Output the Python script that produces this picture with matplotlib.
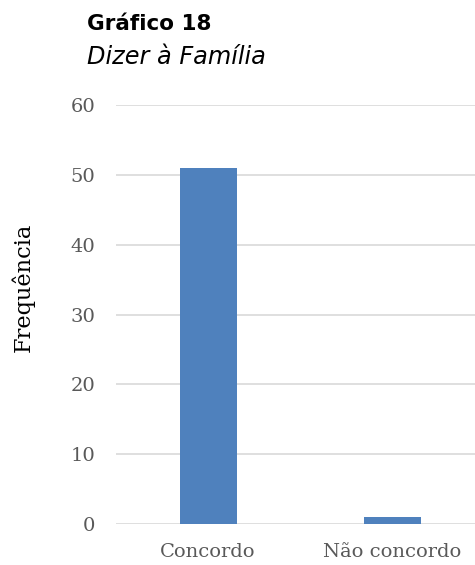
import matplotlib.pyplot as plt

# Dados
categorias = ["Concordo", "Não concordo"]
frequencias = [51, 1]
yticks = [0, 10, 20, 30, 40, 50, 60]

BAR_COLOR = "#4f81bd"
GRID_COLOR = "#d9d9d9"
TICK_COLOR = "#595959"
SERIF = ["DejaVu Serif"]

fig = plt.figure(figsize=(4.75, 5.65), dpi=100)
ax = fig.add_axes([116 / 475, 1 - 524 / 565, 359 / 475, (524 - 105) / 565])

x = range(len(categorias))
ax.bar(x, frequencias, width=0.31, color=BAR_COLOR, zorder=3)

ax.set_ylim(0, 60)
ax.set_xlim(-0.5, 1.45)
ax.set_yticks(yticks)
ax.set_xticks(list(x))
ax.set_xticklabels(categorias)
ax.yaxis.grid(True, color=GRID_COLOR, linewidth=1.2, zorder=0)
ax.set_axisbelow(True)

for s in ax.spines.values():
    s.set_visible(False)
ax.tick_params(axis="both", length=0, colors=TICK_COLOR, labelsize=14)
ax.tick_params(axis="y", pad=15)
ax.tick_params(axis="x", pad=14)
for lbl in ax.get_xticklabels() + ax.get_yticklabels():
    lbl.set_family(SERIF)

fig.text(23 / 475, 1 - 287 / 565, "Frequência", family=SERIF, fontsize=16.2,
         rotation=90, va="center", ha="center", color="black")

fig.text(87 / 475, 1 - 24 / 565, "Gráfico 18", fontsize=15.5, fontweight="bold",
         family="DejaVu Sans", va="center", ha="left")
fig.text(87 / 475, 1 - 57 / 565, "Dizer à Família", fontsize=17.3, style="italic",
         family="DejaVu Sans", va="center", ha="left")

fig.savefig("out.png", dpi=100)
